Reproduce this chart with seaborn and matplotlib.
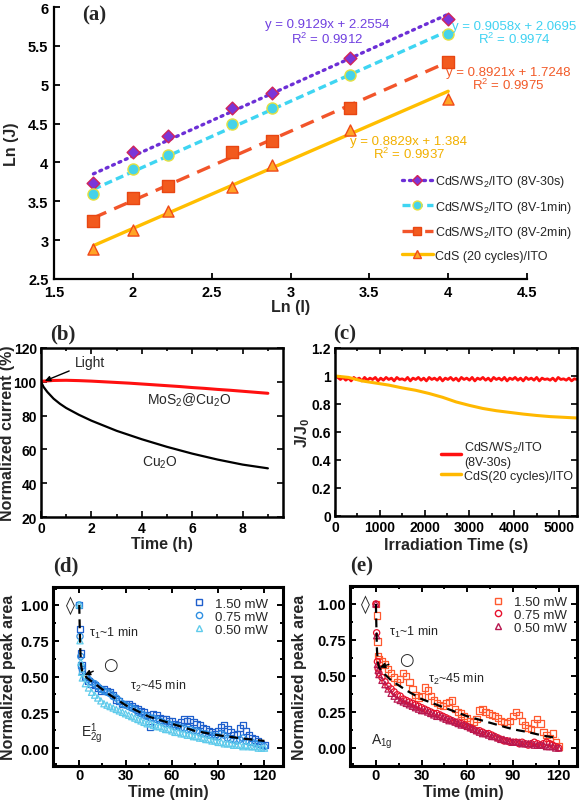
import numpy as np
import matplotlib
matplotlib.use('Agg')
import matplotlib.pyplot as plt
import seaborn as sns
from matplotlib.lines import Line2D
from matplotlib.ticker import MultipleLocator

# ---------------- data ----------------
# (a)
ln_I = [1.75, 2.0, 2.22, 2.63, 2.88, 3.38, 4.0]
lnJ_30s = [3.73, 4.14, 4.34, 4.70, 4.89, 5.35, 5.85]
lnJ_1min = [3.59, 3.91, 4.09, 4.49, 4.70, 5.12, 5.65]
lnJ_2min = [3.25, 3.54, 3.70, 4.13, 4.27, 4.70, 5.29]
lnJ_cds = [2.89, 3.13, 3.37, 3.69, 3.97, 4.42, 4.82]
fit_slope = [0.9129, 0.9058, 0.8921, 0.8829]
fit_icpt = [2.2554, 2.0695, 1.7248, 1.384]
fit_r2 = [0.9912, 0.9974, 0.9975, 0.9937]
labels_a = ['CdS/WS$_2$/ITO (8V-30s)', 'CdS/WS$_2$/ITO (8V-1min)',
            'CdS/WS$_2$/ITO (8V-2min)', 'CdS (20 cycles)/ITO']

# (b)
t_h_red = [0, 0.5, 1, 1.5, 2, 2.5, 3, 3.5, 4, 4.5, 5, 5.5, 6, 6.5, 7, 7.5, 8, 8.5, 9]
cur_mos2 = [100.3, 100.8, 100.9, 100.7, 100.4, 100.0, 99.6, 99.2, 98.7, 98.2,
            97.7, 97.2, 96.6, 96.1, 95.5, 95.0, 94.4, 93.8, 93.2]
t_h_blk = [0, 0.1, 0.25, 0.5, 0.75, 1, 1.5, 2, 2.5, 3, 3.5, 4, 5, 6, 7, 8, 9]
cur_cu2o = [100, 97, 94, 90, 87, 84.5, 80.5, 77, 74, 71, 68.5, 66, 61.5, 57.5, 54, 51, 48.8]

# (c)
jj_ws2 = [1.00, 0.99, 0.975, 0.99, 0.97, 0.985, 0.965, 0.99, 0.975, 0.985, 0.965,
          0.99, 0.97, 0.985, 0.975, 0.99, 0.965, 0.985, 0.97, 0.99, 0.975, 0.985,
          0.965, 0.99, 0.975, 0.98, 0.97, 0.99, 0.965, 0.985, 0.975, 0.99, 0.97,
          0.985, 0.965, 0.99, 0.975, 0.985, 0.97, 0.99, 0.965, 0.985, 0.975, 0.99,
          0.97, 0.985, 0.965, 0.99, 0.975, 0.985, 0.97, 0.99, 0.965, 0.985, 0.975,
          0.99, 0.97, 0.985, 0.965, 0.99, 0.975, 0.985, 0.97, 0.99, 0.965, 0.985,
          0.975, 0.99, 0.97, 0.985, 0.965, 0.99, 0.975, 0.985, 0.97, 0.99, 0.965,
          0.985, 0.975, 0.98, 0.97, 0.985, 0.965, 0.99, 0.975, 0.98, 0.97, 0.985,
          0.965, 0.98, 0.975]
t_s_cds = [0, 300, 600, 900, 1200, 1500, 1800, 2100, 2400, 2700, 3000, 3300,
           3600, 3900, 4200, 4500, 4800, 5100, 5400]
jj_cds = [1.000, 0.990, 0.965, 0.950, 0.935, 0.915, 0.898, 0.875, 0.848, 0.815,
          0.790, 0.768, 0.752, 0.740, 0.728, 0.718, 0.710, 0.705, 0.700]
labels_c = ['CdS/WS$_2$/ITO\n(8V-30s)', 'CdS(20 cycles)/ITO']

# (d), (e)
t_min = [0, 0.5, 1, 1.5] + list(range(2, 121, 2))
d_150 = [1.00, 0.83, 0.66, 0.58,
         0.54, 0.50, 0.47, 0.45, 0.44, 0.42, 0.40, 0.41, 0.40, 0.39,
         0.37, 0.34, 0.33, 0.31, 0.31, 0.31, 0.29, 0.28, 0.27, 0.26,
         0.25, 0.23, 0.15, 0.24, 0.23, 0.21, 0.20, 0.20, 0.19, 0.19,
         0.17, 0.16, 0.18, 0.20, 0.19, 0.20, 0.18, 0.17, 0.16, 0.14,
         0.13, 0.12, 0.11, 0.10, 0.12, 0.15, 0.16, 0.13, 0.11, 0.09,
         0.10, 0.14, 0.16, 0.12, 0.09, 0.07, 0.06, 0.05, 0.03, 0.02]
d_075 = [1.00, 0.78, 0.64, 0.57,
         0.55, 0.50, 0.48, 0.46, 0.45, 0.43, 0.41, 0.40, 0.39, 0.38,
         0.36, 0.35, 0.33, 0.31, 0.30, 0.29, 0.28, 0.27, 0.25, 0.24,
         0.23, 0.22, 0.21, 0.21, 0.20, 0.19, 0.18, 0.17, 0.17, 0.16,
         0.15, 0.15, 0.14, 0.14, 0.13, 0.13, 0.12, 0.12, 0.11, 0.10,
         0.10, 0.09, 0.09, 0.08, 0.08, 0.10, 0.09, 0.07, 0.06, 0.06,
         0.05, 0.06, 0.07, 0.05, 0.04, 0.04, 0.03, 0.03, 0.02, 0.01]
d_050 = [1.00, 0.75, 0.60, 0.53,
         0.49, 0.45, 0.42, 0.39, 0.37, 0.35, 0.33, 0.31, 0.30, 0.29,
         0.28, 0.27, 0.26, 0.25, 0.24, 0.23, 0.22, 0.21, 0.20, 0.19,
         0.18, 0.17, 0.17, 0.16, 0.15, 0.15, 0.14, 0.13, 0.13, 0.12,
         0.11, 0.11, 0.10, 0.10, 0.09, 0.09, 0.08, 0.08, 0.07, 0.07,
         0.06, 0.06, 0.05, 0.05, 0.04, 0.04, 0.03, 0.03, 0.03, 0.02,
         0.02, 0.02, 0.01, 0.02, 0.01, 0.01, 0.01, 0.00, 0.00, 0.00]
e_150 = [1.00, 0.92, 0.74, 0.64,
         0.62, 0.60, 0.58, 0.55, 0.52, 0.49, 0.46, 0.48, 0.52, 0.50,
         0.46, 0.41, 0.37, 0.35, 0.36, 0.42, 0.40, 0.36, 0.33, 0.31,
         0.30, 0.29, 0.31, 0.32, 0.33, 0.27, 0.25, 0.24, 0.22, 0.21,
         0.19, 0.18, 0.20, 0.26, 0.27, 0.25, 0.24, 0.23, 0.22, 0.21,
         0.19, 0.18, 0.17, 0.19, 0.22, 0.25, 0.23, 0.19, 0.16, 0.14,
         0.13, 0.17, 0.20, 0.17, 0.11, 0.09, 0.07, 0.10, 0.04, 0.01]
e_075 = [1.00, 0.80, 0.60, 0.55,
         0.52, 0.49, 0.46, 0.43, 0.41, 0.39, 0.37, 0.36, 0.34, 0.33,
         0.32, 0.31, 0.30, 0.29, 0.28, 0.27, 0.26, 0.25, 0.24, 0.24,
         0.23, 0.22, 0.21, 0.20, 0.19, 0.18, 0.18, 0.17, 0.16, 0.15,
         0.14, 0.13, 0.12, 0.12, 0.11, 0.10, 0.10, 0.09, 0.08, 0.07,
         0.06, 0.05, 0.05, 0.04, 0.04, 0.04, 0.03, 0.04, 0.03, 0.02,
         0.03, 0.04, 0.03, 0.02, 0.03, 0.04, 0.03, 0.02, 0.01, 0.00]
e_050 = [1.00, 0.78, 0.58, 0.54,
         0.51, 0.47, 0.44, 0.41, 0.38, 0.36, 0.34, 0.33, 0.32, 0.31,
         0.30, 0.29, 0.28, 0.27, 0.26, 0.26, 0.25, 0.24, 0.23, 0.22,
         0.22, 0.21, 0.20, 0.19, 0.19, 0.18, 0.17, 0.16, 0.16, 0.15,
         0.14, 0.13, 0.12, 0.11, 0.10, 0.10, 0.09, 0.08, 0.08, 0.07,
         0.06, 0.06, 0.05, 0.05, 0.04, 0.04, 0.04, 0.03, 0.03, 0.03,
         0.03, 0.02, 0.02, 0.02, 0.02, 0.01, 0.01, 0.01, 0.00, 0.00]
fit_t_d = [0, 0.3, 0.7, 1.2, 2, 5, 10, 20, 30, 45, 60, 75, 90, 105, 120]
fit_y_d = [1.0, 0.85, 0.68, 0.58, 0.53, 0.49, 0.45, 0.37, 0.30, 0.22, 0.17, 0.12, 0.09, 0.068, 0.05]
fit_t_e = [0, 0.3, 0.7, 1.2, 2, 5, 10, 20, 30, 40, 50, 60, 70, 80, 90, 100, 110, 120]
fit_y_e = [1.0, 0.85, 0.68, 0.60, 0.56, 0.52, 0.47, 0.40, 0.34, 0.30, 0.26, 0.22, 0.19, 0.16, 0.13, 0.11, 0.085, 0.068]
power_labels = ['1.50 mW', '0.75 mW', '0.50 mW']

# ---------------- style ----------------
sns.set_theme(style='ticks')
plt.rcParams['font.family'] = ['Liberation Sans', 'DejaVu Sans']
plt.rcParams['mathtext.fontset'] = 'custom'
plt.rcParams['mathtext.rm'] = 'Liberation Sans'
plt.rcParams['mathtext.it'] = 'Liberation Sans:italic'
plt.rcParams['mathtext.bf'] = 'Liberation Sans:bold'
plt.rcParams['axes.edgecolor'] = 'black'
plt.rcParams['xtick.color'] = 'black'
plt.rcParams['ytick.color'] = 'black'

W, H = 586, 804
fig = plt.figure(figsize=(W / 100, H / 100), dpi=100)


def axes_px(x0, y0, x1, y1):
    return fig.add_axes([x0 / W, 1 - y1 / H, (x1 - x0) / W, (y1 - y0) / H])


def fmt(v):
    return ('%g' % v)


def set_ticks(ax, xt, yt, size, xlab=None, ylab=None):
    ax.set_xticks(xt, labels=xlab or [fmt(v) for v in xt], fontweight='bold', fontsize=size)
    ax.set_yticks(yt, labels=ylab or [fmt(v) for v in yt], fontweight='bold', fontsize=size)


# ---------------- (a) ----------------
axA = axes_px(54, 8, 527, 280)
a_series = [lnJ_30s, lnJ_1min, lnJ_2min, lnJ_cds]
a_line = ['#6c2fd6', '#3fd5f2', '#f2552a', '#ffbe00']
a_ls = [(0, (0.6, 1.5)), (0, (2.4, 1.3)), (0, (4.2, 2.6)), '-']
a_mk = ['D', 'o', 's', '^']
a_mfc = ['#7a36d8', '#45d2ea', '#f25a1e', '#ffa526']
a_mec = ['#d0245a', '#e6e040', '#e84612', '#f04a1a']
a_ms = [6.5, 8, 8, 8]
x_lo, x_hi = ln_I[0], ln_I[-1]
for i, ys in enumerate(a_series):
    fx = [x_lo, x_hi]
    fy = [fit_slope[i] * x_lo + fit_icpt[i], fit_slope[i] * x_hi + fit_icpt[i]]
    sns.lineplot(x=fx, y=fy, ax=axA, color=a_line[i], linestyle=a_ls[i], lw=2.4,
                 dash_capstyle='round' if i == 0 else 'butt', zorder=2)
    sns.scatterplot(x=ln_I, y=ys, ax=axA, marker=a_mk[i], color=a_mfc[i],
                    edgecolor=a_mec[i], linewidth=1.0, s=a_ms[i] ** 2, zorder=3)
axA.set_xlim(1.5, 4.5)
axA.set_ylim(2.5, 6)
set_ticks(axA, [1.5, 2, 2.5, 3, 3.5, 4, 4.5], [2.5, 3, 3.5, 4, 4.5, 5, 5.5, 6], 10.5)
axA.tick_params(direction='in', length=4, width=1.3, pad=4)
sns.despine(ax=axA)
for s in ['left', 'bottom']:
    axA.spines[s].set_linewidth(1.6)
axA.set_xlabel('Ln (I)', fontweight='bold', fontsize=11.5)
axA.set_ylabel('Ln (J)', fontweight='bold', fontsize=11.5)
axA.xaxis.set_label_coords(0.5, -0.075)
axA.yaxis.set_label_coords(-0.075, 0.5)
eq_col = ['#7040e0', '#40d2f2', '#f25a28', '#f2b000']
eq_pos = [(3.23, 5.775, 5.595), (4.42, 5.76, 5.60), (4.38, 5.17, 5.0), (3.75, 4.28, 4.12)]
for i in range(4):
    x, y1, y2 = eq_pos[i]
    axA.text(x, y1, 'y = %.4gx + %.5g' % (fit_slope[i], fit_icpt[i]), color=eq_col[i],
             fontsize=9.5, ha='center', va='center', clip_on=False)
    axA.text(x, y2, 'R$^2$ = %.4f' % fit_r2[i], color=eq_col[i],
             fontsize=9.5, ha='center', va='center', clip_on=False)
hA = [Line2D([0], [0], color=a_line[i], linestyle=a_ls[i], lw=2.4, marker=a_mk[i],
             mfc=a_mfc[i], mec=a_mec[i], ms=a_ms[i] * 0.8,
             dash_capstyle='round' if i == 0 else 'butt') for i in range(4)]
axA.legend(hA, labels_a, loc='center left', bbox_to_anchor=(0.735, 0.226), frameon=False,
           fontsize=9, handlelength=2.5, handletextpad=0.2, labelspacing=0.75,
           borderpad=0, borderaxespad=0, markerscale=1)

# ---------------- (b) ----------------
axB = axes_px(41, 349, 283, 518)
sns.lineplot(x=t_h_blk, y=cur_cu2o, ax=axB, color='black', lw=1.6)
sns.lineplot(x=t_h_red, y=cur_mos2, ax=axB, color='#ff1010', lw=2.2)
axB.set_xlim(0, 9.6)
axB.set_ylim(20, 120)
set_ticks(axB, [0, 2, 4, 6, 8], [20, 40, 60, 80, 100, 120], 10)
axB.xaxis.set_minor_locator(MultipleLocator(1))
axB.set_xlabel('Time (h)', fontweight='bold', fontsize=11.5)
axB.set_ylabel('Normalized current (%)', fontweight='bold', fontsize=11.5)
axB.xaxis.set_label_coords(0.5, -0.115)
axB.yaxis.set_label_coords(-0.107, 0.5)
axB.text(4.2, 89.5, 'MoS$_2$@Cu$_2$O', fontsize=10, va='center', ha='left')
axB.text(4.0, 52.5, 'Cu$_2$O', fontsize=10, va='center', ha='left')
axB.annotate('Light', xy=(0.15, 100.5), xytext=(1.35, 111.5), fontsize=10, va='center',
             arrowprops=dict(arrowstyle='-|>', color='black', lw=1.0, shrinkA=2, shrinkB=0,
                             mutation_scale=8))

# ---------------- (c) ----------------
axC = axes_px(335, 349, 577, 517)
t_s_ws2 = np.linspace(0, 5400, len(jj_ws2))
sns.lineplot(x=t_s_ws2, y=jj_ws2, ax=axC, color='#ff1010', lw=2.0)
sns.lineplot(x=t_s_cds, y=jj_cds, ax=axC, color='#ffb800', lw=2.2)
axC.set_xlim(0, 5400)
axC.set_ylim(0, 1.2)
set_ticks(axC, [0, 1000, 2000, 3000, 4000, 5000], [0, 0.2, 0.4, 0.6, 0.8, 1, 1.2], 10)
axC.xaxis.set_minor_locator(MultipleLocator(500))
axC.set_xlabel('Irradiation Time (s)', fontweight='bold', fontsize=11.5)
axC.set_ylabel('J/J$_\\mathbf{0}$', fontweight='bold', fontsize=11.5)
axC.xaxis.set_label_coords(0.5, -0.125)
axC.yaxis.set_label_coords(-0.095, 0.5)
hC = [Line2D([0], [0], color='#ff1010', lw=2.5), Line2D([0], [0], color='#ffb800', lw=2.5)]
axC.legend(hC, labels_c, loc='center left', bbox_to_anchor=(0.44, 0.33), frameon=False,
           fontsize=9, handlelength=1.6, handletextpad=0.2, labelspacing=0.1,
           borderpad=0, borderaxespad=0)

# ---------------- (d), (e) ----------------
def decay_panel(ax, series, colors, fit_t, fit_y, mode_label, lab_pos, annot):
    mk = ['s', 'o', '^']
    for vals, c, m in zip(series, colors, mk):
        sns.scatterplot(x=t_min, y=vals, ax=ax, marker=m, facecolor='none', edgecolor=c,
                        linewidth=0.9, s=20, zorder=2)
    sns.lineplot(x=fit_t, y=fit_y, ax=ax, color='black', lw=1.6,
                 linestyle=(0, (4, 2.5)), zorder=3)
    ax.set_xlim(-17, 132)
    ax.set_ylim(-0.125, 1.125)
    set_ticks(ax, [0, 30, 60, 90, 120], [0, 0.25, 0.5, 0.75, 1.0], 10.5,
              ylab=['0.00', '0.25', '0.50', '0.75', '1.00'])
    ax.xaxis.set_minor_locator(MultipleLocator(15))
    ax.yaxis.set_minor_locator(MultipleLocator(0.125))
    for s in ax.spines.values():
        s.set_linewidth(2.2)
    ax.set_xlabel('Time (min)', fontweight='bold', fontsize=11.5)
    ax.set_ylabel('Normalized peak area', fontweight='bold', fontsize=11.5)
    ax.xaxis.set_label_coords(0.5, -0.098)
    hs = [Line2D([0], [0], marker=m, ls='none', mfc='none', mec=c, mew=1.0, ms=4.5)
          for m, c in zip(mk, colors)]
    ax.legend(hs, power_labels, loc='upper right', bbox_to_anchor=lab_pos, frameon=False,
              fontsize=9.5, handlelength=1.0, handletextpad=0.7, labelspacing=0.05,
              borderpad=0, borderaxespad=0)
    (dx, t1x, t1y, t2x, t2y, cx, cy, ax_t, ax_y, mlx, mly) = annot
    ax.text(dx, 1.0, '\u25ca', fontsize=13, ha='center', va='center', family='DejaVu Sans')
    ax.text(t1x, t1y, '\u03c4$_1$~1 min', fontsize=9, ha='left', va='center')
    ax.text(t2x, t2y, '\u03c4$_2$~45 min', fontsize=9, ha='left', va='center')
    ax.annotate('\u25cb', xy=(ax_t, ax_y), xytext=(cx, cy), fontsize=12, ha='center',
                va='center', family='DejaVu Sans',
                arrowprops=dict(arrowstyle='-|>', color='black', lw=1.0, shrinkA=5,
                                shrinkB=0, mutation_scale=8))
    ax.text(mlx, mly, mode_label, fontsize=10, ha='left', va='center')


for a in [axB, axC]:
    a.tick_params(which='both', direction='in', top=True, right=True, width=1.2, pad=3)
    a.tick_params(which='major', length=4)
    a.tick_params(which='minor', length=2.5)
    for s in a.spines.values():
        s.set_linewidth(1.8)

axD = axes_px(53, 588, 283, 767)
decay_panel(axD, [d_150, d_075, d_050], ['#1f5fcc', '#2f8fe2', '#5fcbeb'],
            fit_t_d, fit_y_d, 'E$^1_{\\mathrm{2g}}$', (0.935, 0.94),
            (-5.8, 6.5, 0.81, 33, 0.44, 20, 0.59, 3.5, 0.51, 1, 0.11))
axD.yaxis.set_label_coords(-0.16, 0.5)

axE = axes_px(350, 587, 577, 767)
decay_panel(axE, [e_150, e_075, e_050], ['#ff5a30', '#e8102c', '#b81850'],
            fit_t_e, fit_y_e, 'A$_{\\mathrm{1g}}$', (0.955, 0.945),
            (-6.7, 8.7, 0.81, 34, 0.48, 19.8, 0.62, 2.5, 0.56, -3, 0.05))
axE.yaxis.set_label_coords(-0.19, 0.5)

for a in [axD, axE]:
    a.tick_params(which='both', direction='in', top=True, right=True, width=1.4, pad=1.5)
    a.tick_params(which='major', length=4.5)
    a.tick_params(which='minor', length=2.5)
    a.tick_params(axis='y', pad=3)

# panel labels
for lab, x, y in [('(a)', 82, 15), ('(b)', 50, 334), ('(c)', 333, 334),
                  ('(d)', 53, 566), ('(e)', 350, 566)]:
    fig.text(x / W, 1 - y / H, lab, fontsize=15, fontweight='bold',
             family='Liberation Serif', ha='left', va='center')

fig.savefig('out.png', dpi=100)
